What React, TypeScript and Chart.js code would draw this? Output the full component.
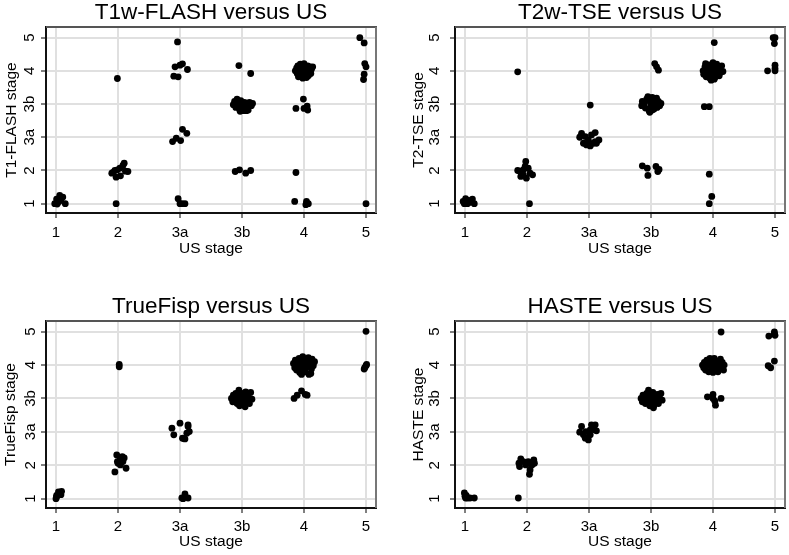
import React, { useEffect, useRef } from "react";
import { Chart, registerables } from "chart.js";

Chart.register(...registerables);

const stageLabels = ["1", "2", "3a", "3b", "4", "5"];
const stageValues = [1, 2, 3, 4, 5, 6];
const xAxisTitle = "US stage";

const t1wFlashPoints: [number, number][] = [
  [0.98, 1.0], [1.01, 1.14], [1.06, 1.25], [1.11, 1.2], [1.05, 1.07], [1.15, 1.0], [1.02, 0.99], [1.08, 1.12],
  [1.9, 1.92], [1.95, 2.0], [1.97, 1.8], [2.03, 2.07], [2.08, 2.15], [2.1, 2.22], [2.16, 1.97], [2.04, 1.84],
  [1.99, 2.02], [1.92, 1.94], [2.12, 1.98], [1.97, 1.0], [1.99, 4.77],
  [2.96, 5.87], [2.92, 5.12], [3.0, 5.17], [3.04, 5.21], [3.12, 5.04], [2.9, 4.84], [2.97, 4.82],
  [2.88, 2.87], [2.94, 2.97], [3.01, 2.9], [3.04, 3.24], [3.11, 3.12],
  [2.97, 1.15], [3.03, 1.0], [3.08, 1.0], [3.0, 1.0],
  [3.95, 5.16], [4.14, 4.92],
  [3.86, 3.98], [3.88, 4.08], [3.9, 3.9], [3.92, 4.15], [3.94, 4.02], [3.96, 3.85], [3.98, 4.1], [4.0, 3.95],
  [4.02, 3.8], [4.04, 4.05], [4.06, 3.88], [4.08, 3.98], [4.1, 3.82], [4.12, 4.05], [4.15, 3.95], [4.17, 4.02],
  [3.97, 3.78], [4.07, 3.8],
  [3.89, 1.97], [3.96, 2.02], [4.06, 1.92], [4.14, 2.0],
  [4.86, 5.0], [4.88, 5.08], [4.89, 4.92], [4.9, 5.15], [4.91, 4.82], [4.93, 5.02], [4.94, 5.2], [4.96, 4.9],
  [4.97, 5.1], [4.98, 4.78], [4.99, 5.0], [5.0, 5.22], [5.02, 4.88], [5.03, 5.08], [5.04, 4.97], [5.06, 5.15],
  [5.07, 4.85], [5.08, 5.02], [5.1, 5.12], [5.11, 4.92], [5.12, 5.05], [5.14, 5.12], [4.92, 4.95], [5.04, 4.8],
  [4.95, 5.05],
  [4.87, 3.87], [4.99, 4.15], [5.0, 3.87], [5.05, 3.94], [5.06, 3.82],
  [4.87, 1.94], [4.85, 1.07], [5.04, 1.07], [5.07, 1.0], [5.03, 0.97],
  [5.9, 6.0], [5.97, 5.84], [5.98, 5.22], [6.0, 5.12], [5.97, 4.9], [5.96, 4.74], [6.0, 1.0],
];

const t2wTsePoints: [number, number][] = [
  [0.97, 1.07], [1.01, 1.15], [1.04, 1.0], [1.12, 1.14], [1.15, 1.0], [1.08, 1.04], [0.99, 1.0], [1.06, 1.1],
  [1.85, 4.97], [2.04, 1.0],
  [1.89, 1.97], [1.94, 1.87], [1.97, 2.12], [1.98, 2.27], [2.02, 2.07], [2.05, 1.92], [2.09, 1.87], [1.9, 1.82],
  [1.99, 1.77], [1.94, 2.02], [1.85, 2.0],
  [3.02, 3.97],
  [2.88, 3.12], [2.94, 3.02], [2.99, 2.92], [3.04, 3.07], [3.1, 2.87], [3.12, 2.82], [3.16, 2.92], [3.1, 3.14],
  [2.91, 2.82], [2.96, 2.77], [3.02, 2.74], [3.07, 2.82], [2.85, 3.0],
  [4.06, 5.22], [4.09, 5.12], [4.12, 5.02],
  [3.85, 3.95], [3.86, 4.08], [3.89, 4.02], [3.91, 3.88], [3.93, 4.15], [3.95, 4.22], [3.97, 3.8], [3.99, 4.05],
  [4.0, 3.92], [4.02, 4.2], [4.04, 4.12], [4.05, 3.85], [4.07, 4.0], [4.09, 4.18], [4.1, 3.9], [4.12, 4.08],
  [4.14, 3.95], [4.16, 4.02], [3.98, 3.75], [4.02, 3.82],
  [3.86, 2.14], [3.94, 2.07], [3.95, 1.85], [4.08, 2.12], [4.11, 1.97], [4.13, 2.03],
  [5.02, 5.85],
  [4.84, 5.0], [4.85, 4.9], [4.87, 5.12], [4.89, 4.82], [4.9, 5.05], [4.92, 4.95], [4.93, 5.18], [4.95, 4.78],
  [4.96, 5.08], [4.98, 4.88], [5.0, 5.25], [5.0, 5.0], [5.02, 4.75], [5.03, 5.12], [5.05, 4.92], [5.06, 5.2],
  [5.08, 5.0], [5.1, 4.85], [5.1, 5.1], [5.12, 4.95], [5.14, 5.15], [5.16, 4.98], [4.88, 5.22], [4.97, 4.72],
  [5.04, 4.82],
  [4.86, 3.92], [4.94, 3.92], [4.94, 1.89], [4.98, 1.22], [4.94, 1.0],
  [5.97, 6.0], [6.0, 6.0], [5.99, 5.82], [6.0, 5.17], [6.0, 5.07], [5.88, 5.0], [6.0, 5.0],
];

const trueFispPoints: [number, number][] = [
  [1.0, 1.0], [1.01, 1.1], [1.04, 1.2], [1.06, 1.15], [1.09, 1.22], [1.01, 1.05], [1.08, 1.12],
  [2.02, 5.02], [2.02, 4.95],
  [1.95, 1.8], [1.98, 2.31], [1.99, 2.11], [2.03, 2.16], [2.07, 2.26], [2.08, 2.11], [2.13, 1.91], [2.04, 2.01],
  [2.0, 2.06], [2.1, 2.22],
  [2.87, 3.11], [2.9, 2.91], [3.0, 3.26], [3.04, 2.81], [3.08, 2.79], [3.13, 3.16], [3.15, 3.01], [3.11, 2.96],
  [3.13, 3.21], [3.06, 2.8],
  [3.03, 1.02], [3.08, 1.14], [3.13, 1.02], [3.05, 1.0],
  [3.83, 4.0], [3.85, 3.9], [3.86, 4.1], [3.88, 3.95], [3.9, 4.15], [3.92, 3.85], [3.93, 4.05], [3.95, 4.25],
  [3.96, 3.78], [3.98, 3.95], [4.0, 4.15], [4.01, 3.88], [4.03, 4.05], [4.05, 3.75], [4.06, 4.2], [4.08, 3.92],
  [4.1, 4.08], [4.12, 3.85], [4.14, 4.18], [4.16, 3.98], [3.97, 4.1], [4.02, 4.0],
  [4.83, 5.05], [4.85, 4.92], [4.86, 5.15], [4.88, 4.85], [4.9, 5.02], [4.92, 5.2], [4.93, 4.78], [4.95, 5.1],
  [4.97, 4.9], [4.98, 5.25], [5.0, 5.0], [5.02, 4.8], [5.03, 5.15], [5.05, 4.95], [5.07, 5.22], [5.08, 4.72],
  [5.1, 5.05], [5.12, 4.88], [5.13, 5.18], [5.15, 4.98], [5.17, 5.1], [4.9, 4.95], [5.05, 5.08], [4.96, 4.72],
  [5.11, 4.75],
  [4.84, 4.0], [4.89, 4.1], [4.96, 4.23], [5.02, 4.12], [5.05, 4.1],
  [6.0, 6.01], [5.97, 4.88], [6.0, 4.98], [5.98, 4.92], [6.01, 5.02],
];

const hastePoints: [number, number][] = [
  [0.99, 1.17], [1.0, 1.07], [1.04, 1.02], [1.08, 1.02], [1.15, 1.02], [1.01, 1.02], [1.02, 1.1],
  [1.86, 1.02],
  [1.87, 2.06], [1.9, 2.19], [1.94, 2.11], [1.98, 2.01], [2.02, 2.11], [2.05, 1.86], [2.04, 1.73], [2.08, 2.01],
  [2.11, 2.16], [2.12, 2.06], [1.88, 1.96], [2.0, 2.05],
  [2.85, 2.99], [2.88, 3.16], [2.91, 2.91], [2.94, 2.81], [2.99, 2.76], [3.02, 3.06], [3.04, 3.21], [3.07, 3.11],
  [3.1, 3.21], [3.09, 3.06], [2.95, 3.01], [3.02, 2.91], [3.12, 3.03],
  [3.84, 4.0], [3.86, 3.9], [3.87, 4.1], [3.89, 4.02], [3.91, 3.85], [3.93, 4.15], [3.95, 3.95], [3.96, 4.25],
  [3.98, 3.78], [4.0, 4.05], [4.01, 3.9], [4.03, 4.18], [4.05, 3.8], [4.06, 4.02], [4.08, 3.92], [4.1, 4.12],
  [4.12, 3.85], [4.14, 4.0], [4.16, 4.15], [4.18, 3.95], [3.97, 4.1], [4.04, 3.72],
  [5.13, 5.99],
  [4.83, 5.0], [4.85, 4.92], [4.86, 5.08], [4.88, 4.85], [4.9, 5.15], [4.92, 5.0], [4.93, 4.8], [4.95, 5.2],
  [4.97, 4.95], [4.99, 5.1], [5.0, 4.78], [5.02, 5.2], [5.03, 5.0], [5.05, 4.88], [5.07, 5.12], [5.08, 4.8],
  [5.1, 5.02], [5.12, 5.18], [5.13, 4.92], [5.15, 5.08], [5.17, 4.85], [5.18, 5.0],
  [4.91, 4.05], [5.0, 4.12], [5.03, 3.92], [5.04, 3.8], [5.13, 4.0], [5.0, 4.0],
  [5.9, 5.87], [5.99, 5.99], [6.0, 5.89], [5.99, 5.94], [5.89, 4.98], [5.93, 4.92], [5.99, 5.12],
];

const FONT = "'Liberation Sans', Arial, Helvetica, sans-serif";

type PanelCfg = {
  title: string;
  yTitle: string;
  points: [number, number][];
  left: number;
  top: number;
  width: number;
  height: number;
  plotLeft: number;
  plotRight: number;
  plotTop: number;
  plotBottom: number;
  yTitlePad: number;
  yTickPad: number;
  xTickPad: number;
  xTitlePad: number;
};

const panels: PanelCfg[] = [
  {
    title: "T1w-FLASH versus US", yTitle: "T1-FLASH stage", points: t1wFlashPoints,
    left: 0, top: 0, width: 394, height: 278,
    plotLeft: 46, plotRight: 376, plotTop: 27, plotBottom: 213,
    yTitlePad: 2.2, yTickPad: 2.6, xTickPad: 6, xTitlePad: 19.7,
  },
  {
    title: "T2w-TSE versus US", yTitle: "T2-TSE stage", points: t2wTsePoints,
    left: 395, top: 0, width: 394, height: 278,
    plotLeft: 60, plotRight: 390, plotTop: 27, plotBottom: 213,
    yTitlePad: 14.7, yTickPad: 6.6, xTickPad: 6, xTitlePad: 19.7,
  },
  {
    title: "TrueFisp versus US", yTitle: "TrueFisp stage", points: trueFispPoints,
    left: 0, top: 278, width: 394, height: 277,
    plotLeft: 46, plotRight: 376, plotTop: 43, plotBottom: 230,
    yTitlePad: 1, yTickPad: 1.6, xTickPad: 4.5, xTitlePad: 3.9,
  },
  {
    title: "HASTE versus US", yTitle: "HASTE stage", points: hastePoints,
    left: 395, top: 278, width: 394, height: 277,
    plotLeft: 60, plotRight: 390, plotTop: 43, plotBottom: 230,
    yTitlePad: 14, yTickPad: 6.6, xTickPad: 4.5, xTitlePad: 3.9,
  },
];

const framePlugin = {
  id: "frame",
  beforeDatasetsDraw(chart: any) {
    const { ctx, chartArea } = chart;
    const { left, right, top, bottom } = chartArea;
    ctx.save();
    ctx.lineWidth = 2;
    ctx.strokeStyle = "#555";
    ctx.beginPath();
    ctx.moveTo(left, top);
    ctx.lineTo(right + 1, top);
    ctx.stroke();
    ctx.strokeStyle = "#777";
    ctx.beginPath();
    ctx.moveTo(right, top);
    ctx.lineTo(right, bottom);
    ctx.stroke();
    ctx.restore();
  },
};

function Panel({ cfg }: { cfg: PanelCfg }) {
  const ref = useRef<HTMLCanvasElement>(null);
  useEffect(() => {
    const canvas = ref.current;
    if (!canvas) return;
    const titleBlock = 22.5 * 1.1 + 2.25;
    const chart = new Chart(canvas, {
      type: "scatter",
      data: {
        datasets: [
          {
            data: cfg.points.map(([x, y]) => ({ x, y })),
            backgroundColor: "#000",
            borderColor: "#000",
            borderWidth: 0,
            pointRadius: 3.4,
            pointHoverRadius: 3.4,
          },
        ],
      },
      options: {
        animation: false,
        responsive: false,
        events: [],
        layout: {
          padding: {
            left: 0,
            top: cfg.plotTop - titleBlock,
            right: cfg.width - cfg.plotRight,
            bottom: 0,
          },
        },
        plugins: {
          legend: { display: false },
          tooltip: { enabled: false },
          title: {
            display: true,
            text: cfg.title,
            fullSize: false,
            color: "#000",
            font: { family: FONT, size: 22.5, weight: "normal", lineHeight: 1.1 },
            padding: { top: 0, bottom: 2.25 },
          },
        },
        scales: {
          x: {
            type: "linear",
            min: 0.839,
            max: 6.161,
            afterBuildTicks: (s: any) => {
              s.ticks = stageValues.map((v) => ({ value: v }));
            },
            afterFit: (s: any) => {
              s.height = cfg.height - cfg.plotBottom;
            },
            ticks: {
              autoSkip: false,
              maxRotation: 0,
              minRotation: 0,
              padding: cfg.xTickPad,
              color: "#000",
              font: { family: FONT, size: 15 },
              callback: (v: any) => stageLabels[Math.round(Number(v)) - 1],
            },
            grid: { color: "#e0e0e0", lineWidth: 2, tickLength: 5, tickColor: "#000", tickWidth: 1 },
            border: { color: "#111", width: 2 },
            title: {
              display: true,
              text: xAxisTitle,
              color: "#000",
              font: { family: FONT, size: 15.5, lineHeight: 1.2 },
              padding: { top: 0, bottom: cfg.xTitlePad },
            },
          },
          y: {
            type: "linear",
            min: 0.72,
            max: 6.32,
            afterBuildTicks: (s: any) => {
              s.ticks = stageValues.map((v) => ({ value: v }));
            },
            afterFit: (s: any) => {
              s.width = cfg.plotLeft;
            },
            ticks: {
              autoSkip: false,
              minRotation: 90,
              maxRotation: 90,
              crossAlign: "center",
              padding: cfg.yTickPad,
              color: "#000",
              font: { family: FONT, size: 15 },
              callback: (v: any) => stageLabels[Math.round(Number(v)) - 1],
            },
            grid: { color: "#e0e0e0", lineWidth: 2, tickLength: 5, tickColor: "#000", tickWidth: 1 },
            border: { color: "#111", width: 2 },
            title: {
              display: true,
              text: cfg.yTitle,
              color: "#000",
              font: { family: FONT, size: 15.5, lineHeight: 1.2 },
              padding: { top: cfg.yTitlePad, bottom: 0 },
            },
          },
        },
      } as any,
      plugins: [framePlugin],
    });
    return () => chart.destroy();
  }, [cfg]);
  return (
    <canvas
      ref={ref}
      width={cfg.width}
      height={cfg.height}
      style={{ position: "absolute", left: cfg.left, top: cfg.top, width: cfg.width, height: cfg.height }}
    />
  );
}

export default function App() {
  return (
    <div style={{ position: "fixed", left: 0, top: 0, width: 789, height: 555, background: "#fff" }}>
      {panels.map((p) => (
        <Panel key={p.title} cfg={p} />
      ))}
    </div>
  );
}
